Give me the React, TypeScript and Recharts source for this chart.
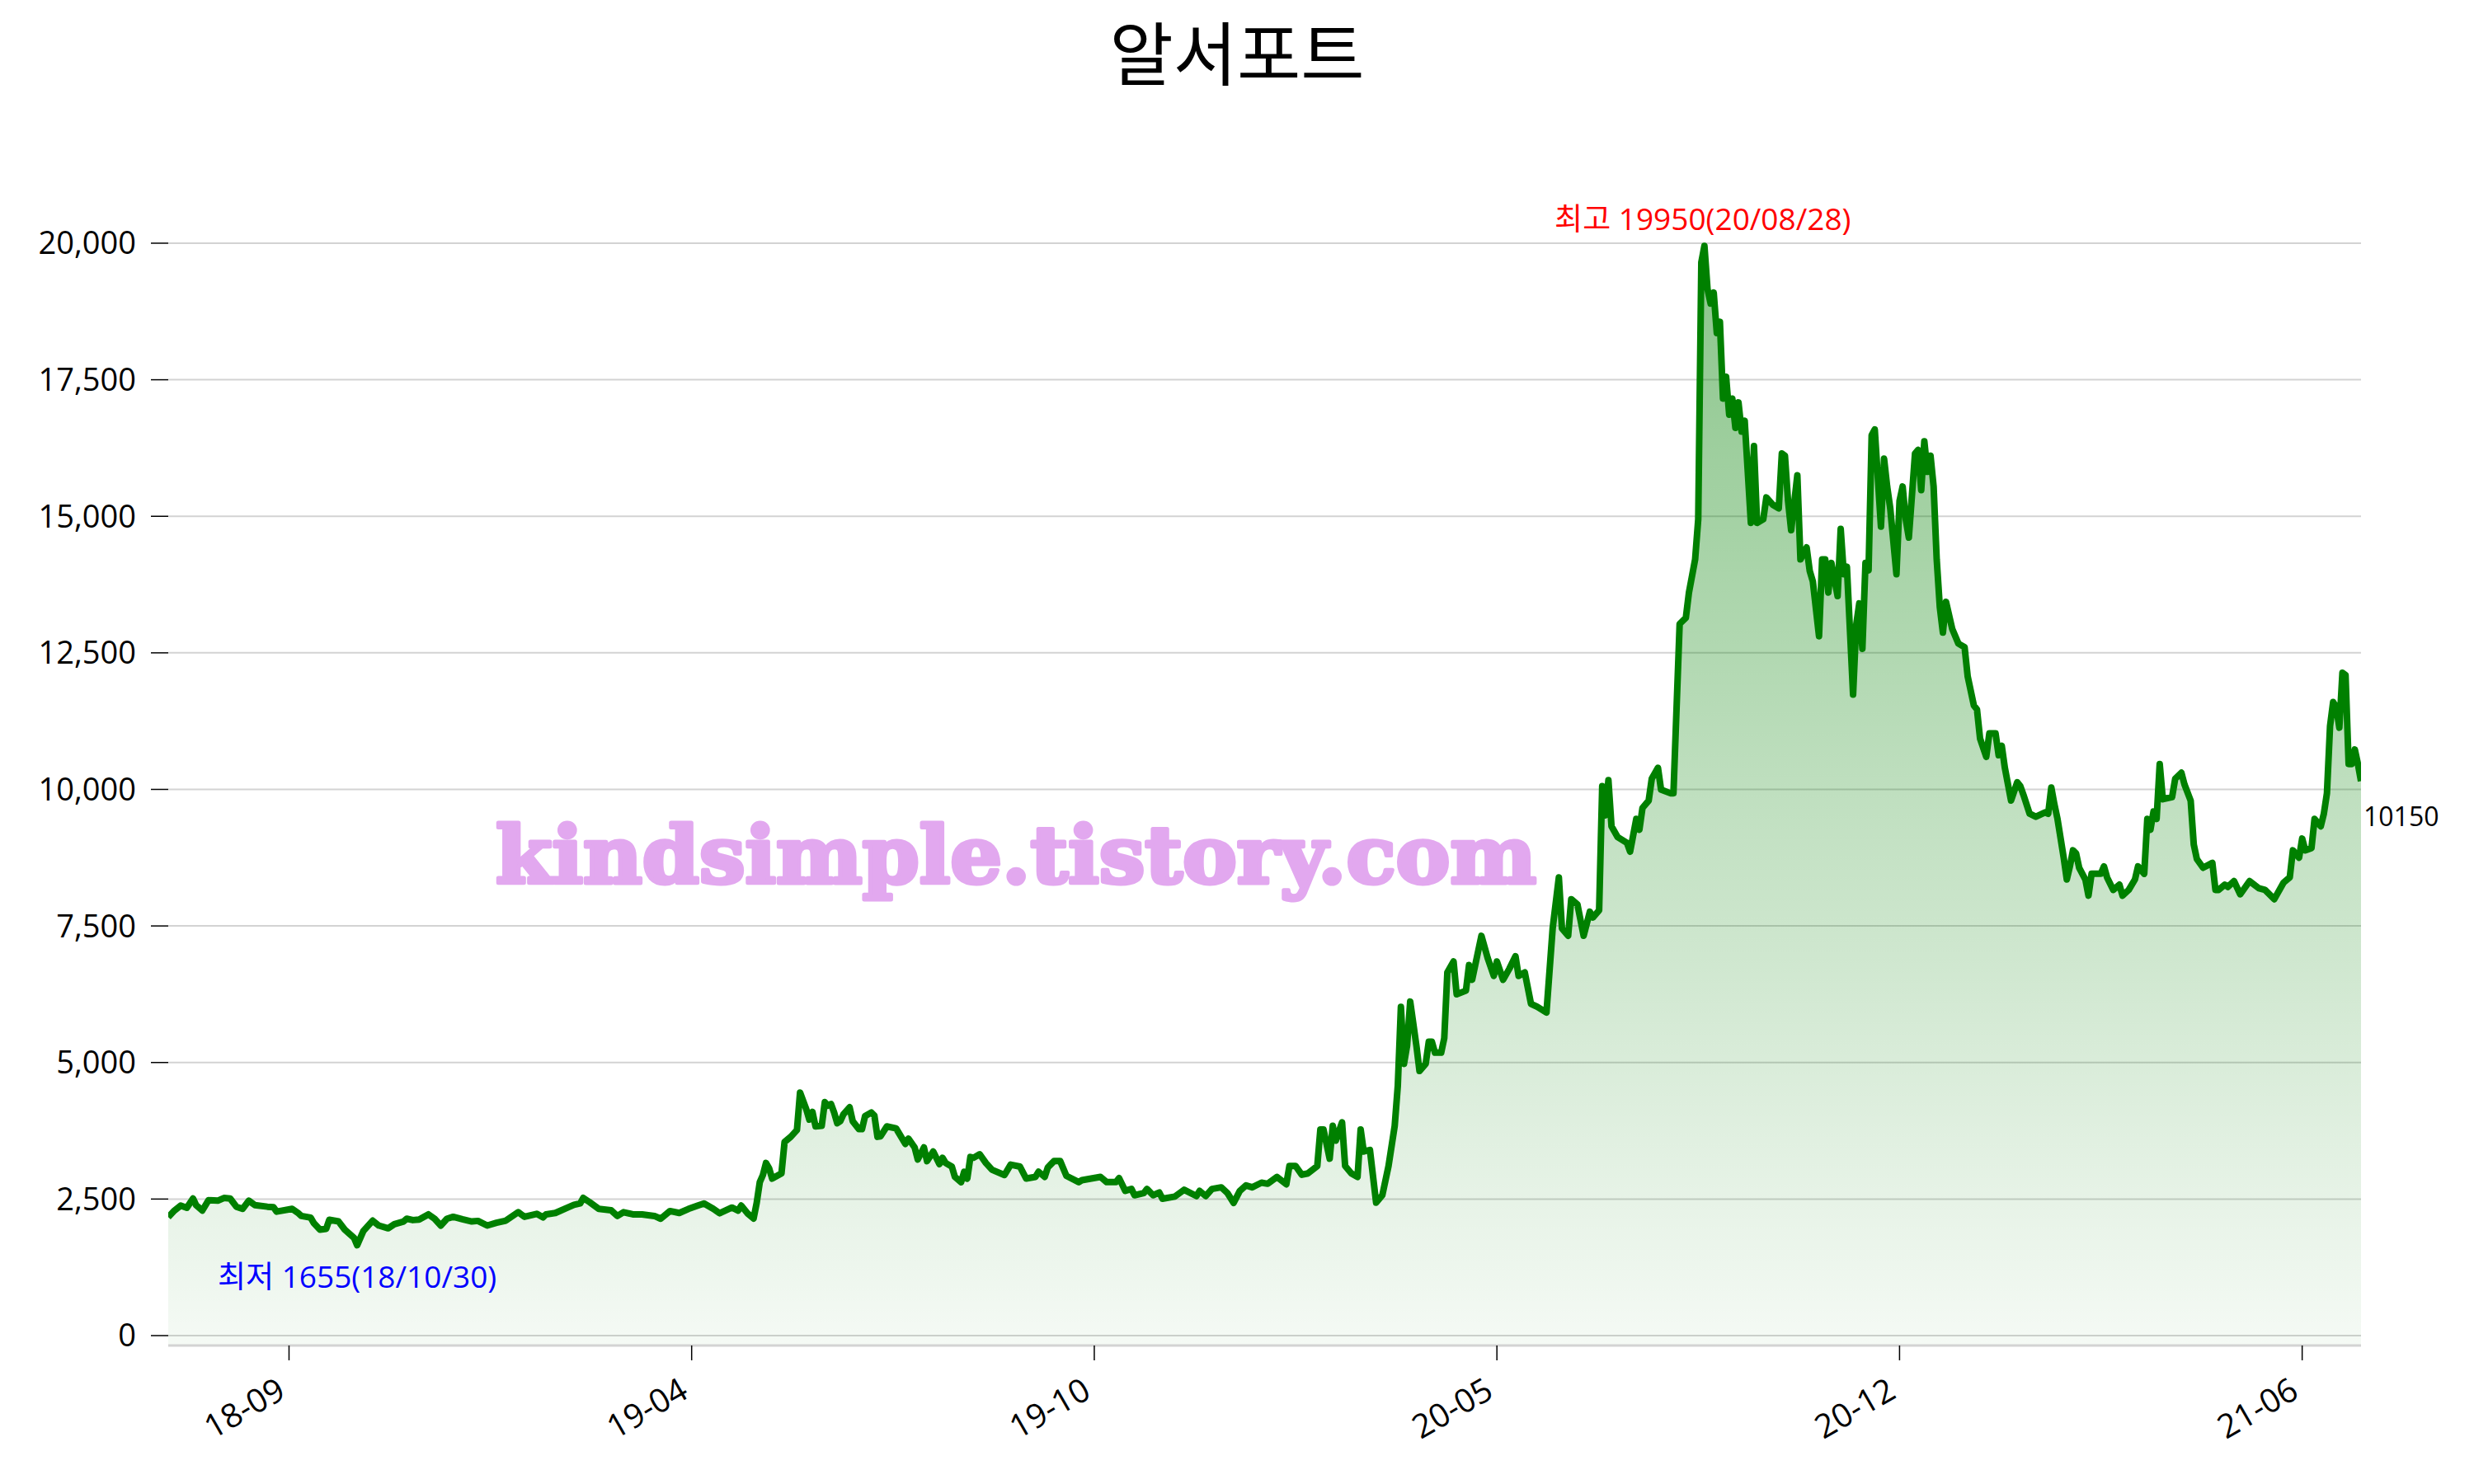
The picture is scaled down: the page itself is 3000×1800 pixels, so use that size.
import React from 'react';
import { AreaChart, Area, XAxis, YAxis, CartesianGrid, ReferenceDot } from 'recharts';

// trading-day index (x) and closing price (y)
const tradingDay = [
  0, 2, 4, 6, 8, 9, 11, 13, 16, 18, 20, 22, 24, 26, 28, 32, 34, 35, 40, 42,
  43, 46, 47, 49, 51, 52, 55, 57, 60, 61, 63, 66, 68, 71, 73, 76, 77, 79, 81, 84,
  86, 88, 90, 92, 95, 98, 100, 103, 106, 109, 113, 115, 119, 121, 122, 125, 129, 131, 133, 134,
  136, 139, 143, 145, 147, 150, 153, 157, 159, 162, 165, 168, 171, 173, 176, 178, 182, 184, 185, 187,
  189, 190, 191, 192, 193, 194, 195, 198, 199, 201, 203, 204, 206, 207, 208, 209, 211, 212, 213, 214,
  215, 216, 217, 218, 220, 221, 223, 224, 225, 227, 228, 229, 230, 232, 235, 236, 238, 239, 241, 242,
  244, 245, 247, 249, 250, 251, 253, 254, 256, 257, 258, 259, 260, 262, 264, 266, 270, 272, 275, 277,
  280, 281, 283, 284, 286, 288, 290, 294, 295, 298, 301, 303, 306, 307, 309, 311, 312, 315, 316, 318,
  320, 321, 325, 328, 332, 333, 335, 337, 340, 342, 344, 346, 348, 350, 353, 355, 358, 361, 362, 364,
  366, 368, 371, 372, 373, 375, 376, 377, 379, 380, 382, 384, 385, 386, 388, 390, 392, 394, 396, 397,
  398, 399, 400, 401, 403, 404, 406, 407, 408, 409, 411, 412, 413, 415, 416, 419, 420, 421, 424, 426,
  428, 429, 431, 433, 435, 436, 438, 440, 442, 445, 447, 449, 450, 452, 453, 455, 457, 459, 460, 462,
  463, 464, 465, 466, 468, 471, 472, 474, 475, 476, 478, 479, 481, 482, 485, 486, 488, 490, 491, 493,
  494, 495, 496, 497, 498, 499, 500, 501, 502, 503, 504, 505, 506, 507, 508, 509, 510, 511, 512, 513,
  515, 516, 518, 520, 521, 522, 523, 524, 526, 527, 529, 530, 531, 533, 534, 535, 536, 537, 539, 540,
  541, 542, 544, 545, 546, 547, 548, 549, 550, 551, 553, 554, 555, 556, 558, 559, 560, 561, 562, 564,
  565, 566, 567, 568, 569, 570, 571, 572, 573, 574, 576, 578, 580, 581, 583, 584, 585, 587, 588, 590,
  591, 592, 593, 595, 597, 598, 599, 601, 603, 606, 607, 608, 609, 610, 612, 613, 614, 615, 616, 617,
  619, 620, 621, 624, 625, 626, 628, 630, 631, 633, 635, 636, 638, 639, 640, 641, 642, 643, 644, 647,
  648, 650, 651, 653, 654, 655, 657, 660, 661, 662, 664, 665, 667, 669, 672, 675, 677, 680, 683, 685,
  686, 688, 689, 690, 692, 693, 695, 696, 697, 698, 699, 700, 701, 702, 703, 704, 705, 706, 707, 708,
];

const closePrice = [
  2170, 2290, 2380, 2340, 2510, 2390, 2290, 2480, 2470, 2520, 2510, 2360, 2320, 2470, 2390, 2360, 2350, 2270, 2320, 2240,
  2190, 2160, 2060, 1940, 1955, 2120, 2090, 1940, 1790, 1655, 1915, 2105, 2015, 1965, 2040, 2090, 2140, 2115, 2125, 2220,
  2140, 2015, 2140, 2175, 2130, 2090, 2100, 2015, 2065, 2105, 2260, 2175, 2230, 2165, 2220, 2245, 2345, 2395, 2420, 2520,
  2445, 2320, 2295, 2190, 2260, 2220, 2220, 2190, 2140, 2280, 2245, 2320, 2380, 2420, 2320, 2240, 2345, 2290, 2380, 2240,
  2145, 2430, 2810, 2940, 3160, 3065, 2875, 2970, 3545, 3640, 3765, 4450, 4145, 3955, 4095, 3830, 3840, 4275, 4210, 4240,
  4085, 3890, 3925, 4050, 4180, 3925, 3780, 3780, 4020, 4085, 4030, 3640, 3650, 3830, 3795, 3700, 3510, 3605, 3445, 3225,
  3445, 3195, 3370, 3140, 3255, 3160, 3095, 2905, 2810, 3000, 2875, 3270, 3255, 3320, 3160, 3035, 2940, 3130, 3095, 2875,
  2905, 3000, 2905, 3080, 3195, 3195, 2925, 2810, 2845, 2875, 2905, 2810, 2810, 2885, 2650, 2685, 2570, 2610, 2685, 2570,
  2620, 2505, 2545, 2670, 2555, 2650, 2555, 2685, 2715, 2610, 2430, 2650, 2750, 2715, 2800, 2780, 2905, 2770, 3105, 3105,
  2945, 2970, 3105, 3775, 3775, 3240, 3840, 3570, 3905, 3105, 2970, 2905, 3775, 3370, 3400, 2435, 2570, 3105, 3840, 4575,
  6020, 4975, 5310, 6115, 5310, 4845, 4975, 5380, 5380, 5180, 5180, 5445, 6650, 6850, 6250, 6315, 6785, 6515, 7320, 6915,
  6585, 6850, 6515, 6715, 6945, 6585, 6650, 6075, 6020, 5915, 7455, 8390, 7455, 7320, 7990, 7895, 7320, 7760, 7655, 7785,
  10060, 9525, 10170, 9325, 9125, 9020, 8860, 9460, 9260, 9660, 9795, 10195, 10395, 9995, 9930, 9930, 13030, 13140, 13605, 14210,
  14945, 19650, 19950, 19160, 18895, 19095, 18355, 18560, 17155, 17555, 16860, 17155, 16620, 17085, 16550, 16750, 15815, 14880, 16285, 14880,
  14945, 15345, 15215, 15145, 16150, 16110, 15280, 14745, 15750, 14210, 14430, 14000, 13810, 12805, 14210, 14210, 13605, 14145, 13540, 14770,
  13940, 14075, 11735, 13005, 13405, 12575, 14145, 14010, 16485, 16590, 14810, 16055, 15545, 15145, 13940, 15280, 15545, 14945, 14610, 16150,
  16215, 15480, 16375, 15815, 16110, 15545, 14210, 13340, 12870, 13435, 12940, 12670, 12605, 12070, 11535, 11465, 10930, 10595, 11025, 11025,
  10625, 10800, 10395, 9795, 10130, 10060, 9900, 9555, 9500, 9580, 9555, 10035, 9725, 9460, 8750, 8350, 8590, 8885, 8830, 8565,
  8350, 8055, 8455, 8455, 8590, 8390, 8160, 8255, 8055, 8160, 8350, 8590, 8455, 9460, 9260, 9595, 9460, 10465, 9820, 9860,
  10195, 10305, 10090, 9795, 8990, 8725, 8565, 8655, 8160, 8160, 8255, 8215, 8320, 8080, 8320, 8190, 8160, 7990, 8295, 8390,
  8885, 8750, 9100, 8885, 8925, 9460, 9325, 9555, 9930, 11160, 11600, 11505, 11130, 12135, 12095, 10465, 10465, 10730, 10465, 10150,
];

const xTickDays = [39, 169, 299, 429, 559, 689];
const xTickLabels = ['18-09', '19-04', '19-10', '20-05', '20-12', '21-06'];
const yTicks = [0, 2500, 5000, 7500, 10000, 12500, 15000, 17500, 20000];

const chartTitle = '알서포트';
const watermarkText = 'kindsimple.tistory.com';
const highDate = '20/08/28';
const lowDate = '18/10/30';

const FONT = "'Open Sans', 'Noto Sans CJK KR', sans-serif";

const data = tradingDay.map((d, k) => ({ day: d, close: closePrice[k] }));

let hiK = 0;
let loK = 0;
closePrice.forEach((v, k) => {
  if (v > closePrice[hiK]) hiK = k;
  if (v < closePrice[loK]) loK = k;
});
const lastK = closePrice.length - 1;

const W = 2984;
const H = 1784;

const vbCenter = (props: any) => {
  const vb = props.viewBox || {};
  return { cx: (vb.x || 0) + (vb.width || 0) / 2, cy: (vb.y || 0) + (vb.height || 0) / 2 };
};

const HighLabel = (props: any) => {
  const { cx, cy } = vbCenter(props);
  return (
    <text x={cx - 2} y={cy - 19} textAnchor="middle" fill="#ff0000" fontSize={37} fontFamily={FONT}>
      {`최고 ${closePrice[hiK]}(${highDate})`}
    </text>
  );
};

const LowLabel = (props: any) => {
  const { cx, cy } = vbCenter(props);
  return (
    <text x={cx} y={cy + 52} textAnchor="middle" fill="#0000ff" fontSize={37} fontFamily={FONT}>
      {`최저 ${closePrice[loK]}(${lowDate})`}
    </text>
  );
};

const LastLabel = (props: any) => {
  const { cx, cy } = vbCenter(props);
  return (
    <text x={cx + 3} y={cy + 54} textAnchor="start" fill="#000000" fontSize={32} fontFamily={FONT}>
      {`${closePrice[lastK]}`}
    </text>
  );
};

const XTick = (props: any) => {
  const { x, y, payload } = props;
  const idx = xTickDays.indexOf(payload.value);
  const label = idx >= 0 ? xTickLabels[idx] : '';
  return (
    <g transform={`translate(${x - 2},${y + 44})`}>
      <text textAnchor="end" transform="rotate(-30)" fontSize={40} fill="#000" fontFamily={FONT}>
        {label}
      </text>
    </g>
  );
};

export default function App() {
  return (
    <div style={{ position: 'relative', width: W, height: H }}>
      <AreaChart width={W} height={H} data={data} margin={{ top: 272, right: 129, bottom: 30, left: 0 }}>
        <defs>
          <linearGradient id="areaFill" x1="0" y1="0" x2="0" y2="1">
            <stop offset="0%" stopColor="#008000" stopOpacity={0.46} />
            <stop offset="100%" stopColor="#008000" stopOpacity={0.04} />
          </linearGradient>
        </defs>
        <CartesianGrid vertical={false} horizontalValues={yTicks} stroke="#d3d3d3" strokeWidth={2} />
        <XAxis
          type="number"
          dataKey="day"
          domain={[0, 708]}
          ticks={xTickDays}
          interval={0}
          height={130}
          tick={<XTick />}
          tickSize={18}
          tickMargin={0}
          tickLine={{ stroke: '#000', strokeWidth: 1.5 }}
          axisLine={{ stroke: '#d3d3d3', strokeWidth: 3 }}
          allowDataOverflow
        />
        <YAxis
          type="number"
          domain={[-181, 20226]}
          ticks={yTicks}
          interval={0}
          width={196}
          allowDataOverflow
          axisLine={false}
          tickSize={21}
          tickMargin={18}
          tickLine={{ stroke: '#000', strokeWidth: 1.5 }}
          tick={{ fontSize: 38, fill: '#000', fontFamily: FONT }}
          tickFormatter={(v: number) => v.toLocaleString('en-US')}
        />
        <Area
          type="linear"
          dataKey="close"
          stroke="#008000"
          strokeWidth={8}
          strokeLinejoin="round"
          fill="url(#areaFill)"
          fillOpacity={1}
          baseValue="dataMin"
          isAnimationActive={false}
          dot={false}
          activeDot={false}
        />
        <ReferenceDot x={tradingDay[hiK]} y={closePrice[hiK]} r={0} fill="none" stroke="none" label={HighLabel} />
        <ReferenceDot x={tradingDay[loK]} y={closePrice[loK]} r={0} fill="none" stroke="none" label={LowLabel} />
        <ReferenceDot x={tradingDay[lastK]} y={closePrice[lastK]} r={0} fill="none" stroke="none" label={LastLabel} />
      </AreaChart>
      <svg
        width={W}
        height={H}
        style={{ position: 'absolute', left: 0, top: 0, pointerEvents: 'none' }}
      >
        <text x={1492} y={89} textAnchor="middle" fontSize={84} fill="#000" fontFamily={FONT}>
          {chartTitle}
        </text>
        <text
          x={593}
          y={1063}
          fontSize={96}
          fontWeight={900}
          fill="#e2a8ef"
          stroke="#e2a8ef"
          strokeWidth={5}
          strokeLinejoin="round"
          fontFamily="'DejaVu Serif', serif"
          textLength={1262}
          lengthAdjust="spacingAndGlyphs"
        >
          {watermarkText}
        </text>
      </svg>
    </div>
  );
}
